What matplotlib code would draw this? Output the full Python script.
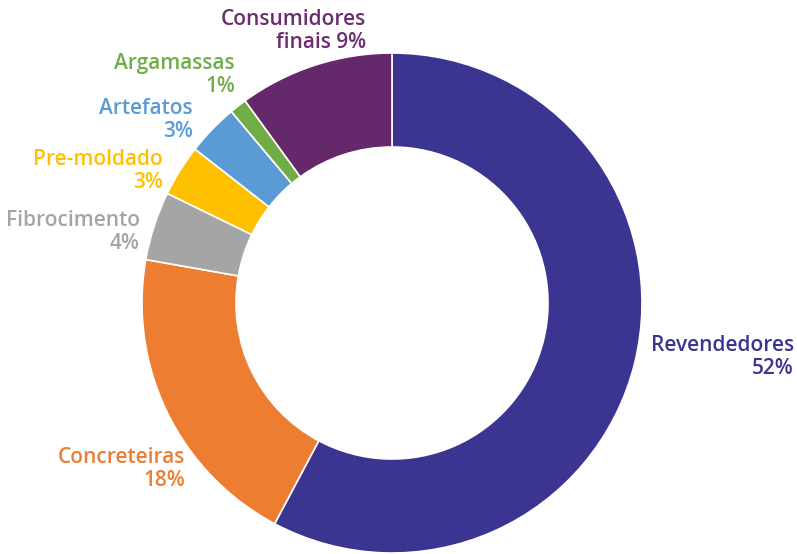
import matplotlib
matplotlib.use("Agg")
import matplotlib.pyplot as plt

categories = ["Revendedores", "Concreteiras", "Fibrocimento", "Pre-moldado",
              "Artefatos", "Argamassas", "Consumidores finais"]
values = [52, 18, 4, 3, 3, 1, 9]
label_texts = ["Revendedores\n52%", "Concreteiras\n18%", "Fibrocimento\n4%",
               "Pre-moldado\n3%", "Artefatos\n3%", "Argamassas\n1%",
               "Consumidores\nfinais 9%"]
colors = ["#3B3490", "#ED7D31", "#A5A5A5", "#FFC000", "#5B9BD5", "#70AD47", "#65286B"]
text_colors = ["#3B3490", "#ED7D31", "#A5A5A5", "#FFC000", "#5B9BD5", "#70AD47", "#6A2D70"]
# label anchor (right edge x, vertical centre y) in pixel space, y measured from top
label_pos = [(794, 357), (185, 469), (140, 232), (163, 171),
             (193, 120), (235, 75), (366, 31)]

W, H = 797, 554
fig = plt.figure(figsize=(W / 100, H / 100), dpi=100)
ax = fig.add_axes([0, 0, 1, 1])

ax.pie(values, colors=colors, startangle=90, counterclock=False,
       center=(392, H - 303), radius=250,
       wedgeprops=dict(width=94, edgecolor="white", linewidth=1.2),
       frame=True)
ax.set_xlim(0, W)
ax.set_ylim(0, H)
ax.set_aspect("equal")
ax.axis("off")

for txt, col, (x, y) in zip(label_texts, text_colors, label_pos):
    ax.text(x, H - y, txt, ha="right", va="center", color=col,
            fontsize=15, fontweight="semibold",
            family=["Open Sans", "DejaVu Sans"], linespacing=1.1)

fig.savefig("out.png", dpi=100)
